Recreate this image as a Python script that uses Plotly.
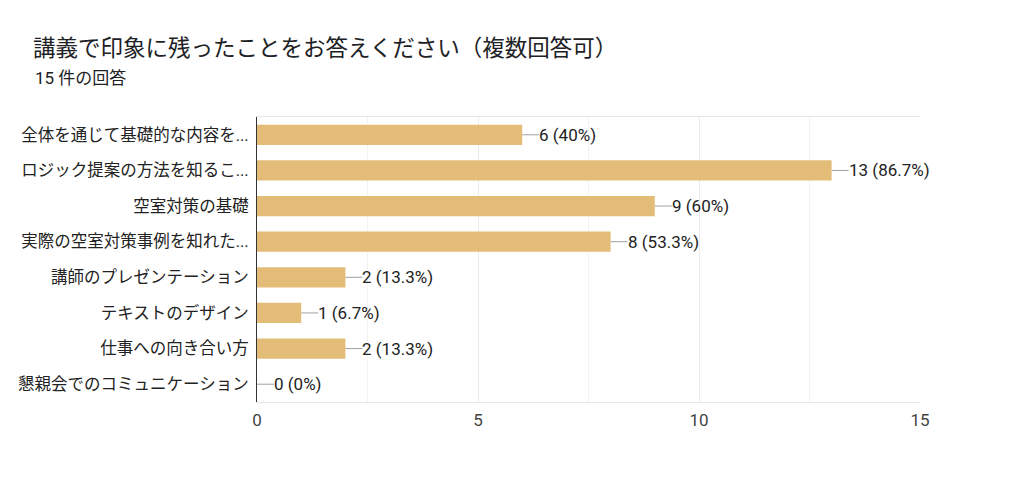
import plotly.graph_objects as go

# 回答データ
categories = [
    "全体を通じて基礎的な内容を...",
    "ロジック提案の方法を知るこ...",
    "空室対策の基礎",
    "実際の空室対策事例を知れた...",
    "講師のプレゼンテーション",
    "テキストのデザイン",
    "仕事への向き合い方",
    "懇親会でのコミュニケーション",
]
counts = [6, 13, 9, 8, 2, 1, 2, 0]
percents = ["40%", "86.7%", "60%", "53.3%", "13.3%", "6.7%", "13.3%", "0%"]
total_responses = 15
title_text = "講義で印象に残ったことをお答えください（複数回答可）"

FONT = "Roboto, 'Noto Sans CJK JP', sans-serif"
BAR_COLOR = "#e3bd78"

# ページの body 余白(8px)を差し引いたサイズ
W, H = 1016, 478
L, R, T, B = 249, 104, 109, 84
PW, PH = W - L - R, H - T - B

fig = go.Figure()
fig.add_trace(go.Bar(
    x=counts,
    y=categories,
    orientation="h",
    marker=dict(color=BAR_COLOR, line=dict(width=0)),
    width=0.57,
    hoverinfo="skip",
))

# 値ラベルと引き出し線
for cat, v, p in zip(categories, counts, percents):
    fig.add_shape(
        type="line", xref="x", yref="y",
        xsizemode="pixel", xanchor=v, x0=0, x1=17,
        y0=cat, y1=cat,
        line=dict(color="#a0a0a0", width=1),
    )
    fig.add_annotation(
        x=v, y=cat, xref="x", yref="y",
        text=f"{v} ({p})", showarrow=False,
        xanchor="left", xshift=15,
        font=dict(size=17, color="#222222"),
    )

# サブタイトル（回答数）
fig.add_annotation(
    x=-(L - 25) / PW, y=1 + (T - 70) / PH,
    xref="paper", yref="paper", xanchor="left", yanchor="middle",
    text=f"{total_responses} 件の回答", showarrow=False,
    font=dict(size=17, color="#202124"),
)

fig.update_layout(
    width=W, height=H,
    margin=dict(l=L, r=R, t=T, b=B),
    paper_bgcolor="white", plot_bgcolor="white",
    showlegend=False,
    font=dict(family=FONT, size=16, color="#222222"),
    title=dict(
        text=title_text,
        x=25 / W, xanchor="left", y=1 - 40 / H, yanchor="middle",
        font=dict(size=22.5, color="#202124"),
    ),
)

fig.update_xaxes(
    range=[0, 15], dtick=5, tick0=0,
    showgrid=True, gridcolor="#ebebeb", gridwidth=1,
    minor=dict(dtick=2.5, showgrid=True, gridcolor="#f2f2f2"),
    showline=True, linecolor="#e6e6e6", mirror=True,
    zeroline=False, ticks="", automargin=False, ticklabelstandoff=3,
    tickfont=dict(size=17, color="#444444"),
)
fig.update_yaxes(
    autorange="reversed", automargin=False,
    showline=True, linecolor="#333333", linewidth=1,
    showgrid=False, ticks="", ticklabelstandoff=4,
    tickfont=dict(size=16.5, color="#222222"),
)

fig.write_html("out.html")
